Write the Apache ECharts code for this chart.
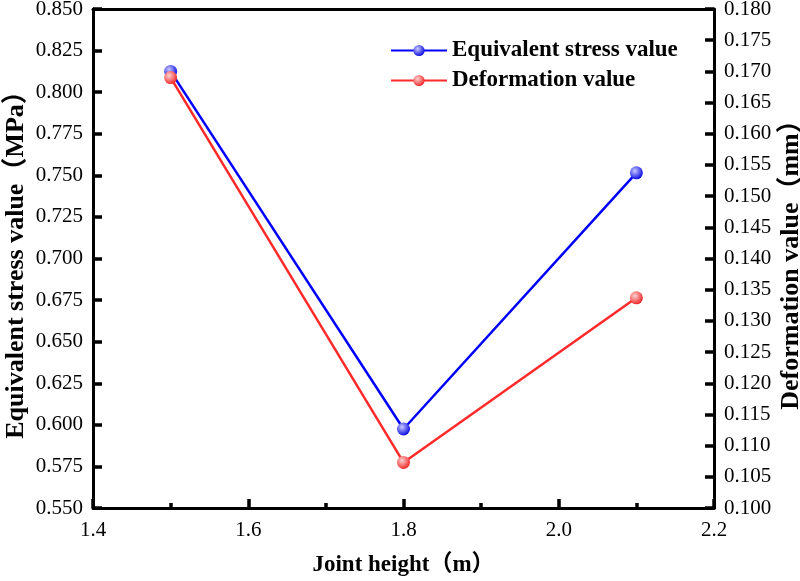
<!DOCTYPE html>
<html>
<head>
<meta charset="utf-8">
<script src="https://cdn.jsdelivr.net/npm/echarts@6/dist/echarts.min.js"></script>
<style>
  html, body { margin: 0; padding: 0; background: #fff; }
  #chart { width: 800px; height: 581px; }
</style>
</head>
<body>
<div id="chart"></div>
<script>
// joint height (m)
const jointHeight = [1.5, 1.8, 2.1];
// equivalent stress (MPa), left axis
const stressValues = [0.8125, 0.5975, 0.7515];
// deformation (mm), right axis
const deformValues = [0.169, 0.1073, 0.1337];

const font = "'Liberation Serif', 'Times New Roman', 'Noto Sans CJK SC', serif";

function ball(c1, c2) {
  return {
    type: "radial", x: 0.38, y: 0.35, r: 0.7,
    colorStops: [
      { offset: 0, color: c1 },
      { offset: 1, color: c2 },
    ],
  };
}

const chart = echarts.init(document.getElementById("chart"));

const axisLine = { show: true, onZero: false, lineStyle: { color: "#000", width: 3 } };
const tick = { show: true, inside: true, length: 9, lineStyle: { color: "#000", width: 3.5 } };
const labelStyle = { color: "#000", fontFamily: font, fontSize: 21 };
const nameStyle = { color: "#000", fontFamily: font, fontSize: 26, fontWeight: "bold" };

const options = {
  animation: false,
  backgroundColor: "#fff",
  grid: {
    left: 93, right: 86, top: 9, bottom: 73,
    outerBoundsMode: "none",
    containLabel: false,
  },
  legend: {
    left: 385, top: 34, orient: "vertical",
    itemWidth: 56, itemHeight: 14, itemGap: 7,
    textStyle: { color: "#000", fontFamily: font, fontSize: 23, fontWeight: "bold" },
    data: ["Equivalent stress value", "Deformation value"],
  },
  xAxis: [
    {
      type: "value",
      position: "bottom",
      min: 1.4, max: 2.2, interval: 0.2,
      axisLine: axisLine,
      axisTick: tick,
      minorTick: { show: true, splitNumber: 2, length: 5, lineStyle: { color: "#000", width: 3.5 } },
      splitLine: { show: false },
      axisLabel: { ...labelStyle, margin: 12, formatter: (v) => v.toFixed(1) },
      name: "Joint height（m）",
      nameLocation: "middle", nameGap: 46, nameMoveOverlap: false,
      nameTextStyle: { ...nameStyle, fontSize: 23 },
    },
    {
      // top frame line
      type: "value",
      position: "top",
      min: 1.4, max: 2.2,
      axisLine: axisLine,
      axisTick: { show: false },
      axisLabel: { show: false },
      splitLine: { show: false },
    },
  ],
  yAxis: [
    {
      type: "value",
      position: "left",
      min: 0.55, max: 0.85, interval: 0.025,
      axisLine: axisLine,
      axisTick: tick,
      splitLine: { show: false },
      axisLabel: { ...labelStyle, margin: 10, formatter: (v) => v.toFixed(3) },
      name: "Equivalent stress value（MPa）",
      nameLocation: "middle", nameGap: 64, nameMoveOverlap: false,
      nameTextStyle: nameStyle,
    },
    {
      type: "value",
      position: "right",
      min: 0.1, max: 0.18, interval: 0.005,
      axisLine: axisLine,
      axisTick: tick,
      splitLine: { show: false },
      axisLabel: { ...labelStyle, margin: 10, formatter: (v) => v.toFixed(3) },
      name: "Deformation value（mm）",
      nameLocation: "middle", nameGap: 64, nameMoveOverlap: false,
      nameTextStyle: nameStyle,
    },
  ],
  series: [
    {
      name: "Equivalent stress value",
      type: "line",
      xAxisIndex: 0,
      yAxisIndex: 0,
      data: jointHeight.map((x, i) => [x, stressValues[i]]),
      symbol: "circle", symbolSize: 13,
      lineStyle: { color: "#0000ff", width: 2.5 },
      itemStyle: { color: ball("#c8c8ff", "#0000e0") },
    },
    {
      name: "Deformation value",
      type: "line",
      xAxisIndex: 0,
      yAxisIndex: 1,
      data: jointHeight.map((x, i) => [x, deformValues[i]]),
      symbol: "circle", symbolSize: 13,
      lineStyle: { color: "#ff2a2a", width: 2.5 },
      itemStyle: { color: ball("#ffd0d0", "#f02020") },
    },
  ],
};

chart.setOption(options);
</script>
</body>
</html>
